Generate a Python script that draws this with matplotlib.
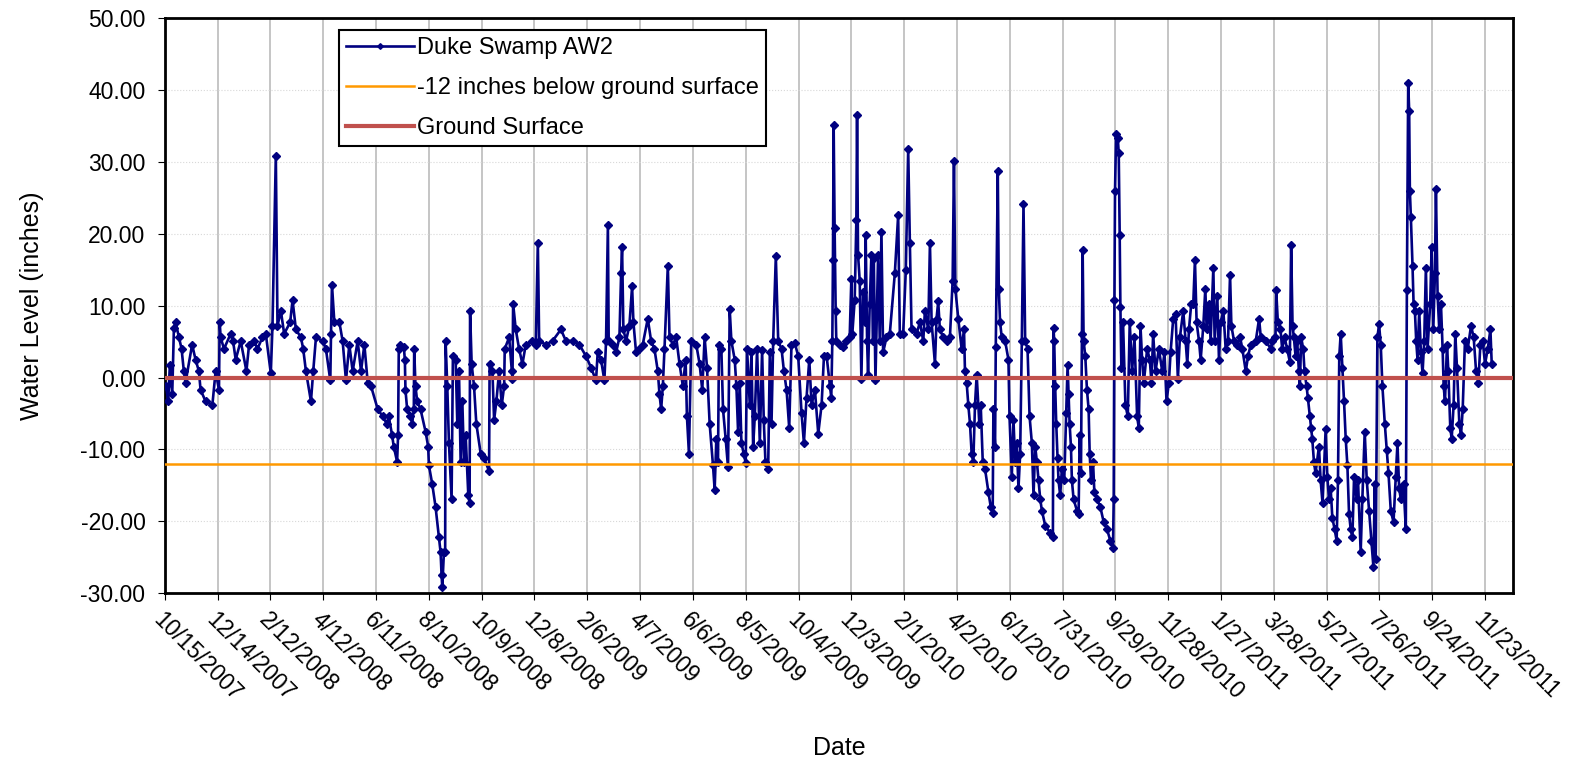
import matplotlib
matplotlib.use("Agg")
import matplotlib.pyplot as plt
import pandas as pd

plt.rcParams['font.family'] = ['Liberation Sans', 'DejaVu Sans']

start = pd.Timestamp('2007-10-15')

# days since 10/15/2007, water level (inches)
days = [1.5, 3.8, 5.7, 8.4, 10.3, 12.2, 16, 19, 21.6, 23.5, 31, 34.9, 38.7, 40.6, 46.3, 54, 57.7, 61.5, 62.3, 63.4,
        67.2, 74.8, 77.5, 80.5, 86.2, 92.7, 95.7, 101.4, 105.2, 110.9, 114.7, 120.4, 122.3, 126.1, 128, 131.8, 135.6,
        142.4, 145.1, 148.9, 154.6, 157.2, 160.3, 166, 168.6, 171.7, 179.3, 183, 188, 188.8, 189.9, 192.6, 198.3, 202,
        205.8, 209.6, 213.4, 219.1, 222.9, 226.7, 230.5, 234.3, 241.9, 247.6, 252, 254.4, 258.2, 260.1, 263.9, 265,
        265.8, 267.7, 271.5, 272.7, 273.4, 275.3, 279.1, 281, 282.9, 283.3, 284.8, 286.7, 290.5, 296.2, 299.2, 300,
        303.8, 307.6, 311.4, 313.3, 314.4, 315.2, 317.1, 318.5, 319, 320.9, 322.8, 325.8, 327.3, 330.4, 332.3, 334.2,
        336.1, 338, 339.9, 341.8, 344.8, 346.3, 346.8, 348.6, 351.3, 353.9, 358.9, 362.7, 368.4, 369, 372.2, 374.1,
        376.7, 379.8, 382.8, 385.5, 386.2, 391.2, 394.2, 395, 395.7, 398.7, 402.5, 406.3, 410.1, 417.7, 421.5, 423.8,
        425.3, 432.9, 440.5, 450, 455.7, 463.3, 470.9, 478.5, 484.2, 489.9, 491.8, 495.6, 499.4, 501.3, 503.4,
        504.3, 508.9, 512.7, 516.5, 518.4, 519.5, 521, 524, 527.8, 530.9, 532.4, 535.4, 539.2, 543, 548.7, 552.5,
        556.3, 560.1, 562, 563.9, 565.8, 567.7, 571.5, 573.4, 577.2, 581, 584.8, 588.6, 591.7, 593.2, 595.5, 598.1,
        603.8, 607.6, 610.6, 613.3, 616, 619, 622.8, 624.7, 626.6, 628.5, 629.6, 632.3, 634.2, 637.2, 639.9, 641.8,
        643.7, 647.5, 649.4, 651.3, 653.2, 655.1, 657.7, 660, 661.5, 664.6, 666.5, 668.4, 670.3, 672.9, 676, 678.6,
        680.5, 682.4, 685.5, 687.4, 689.3, 691.2, 694.2, 696.9, 700.7, 703.4, 706.4, 709.4, 712, 715.8, 719.6, 723.4,
        726.1, 729.1, 732.2, 734.8, 738.6, 742.4, 746.2, 748.9, 751.9, 755.7,
        757.2, 758.4, 759.1, 759.9, 761, 762.2, 762.9, 766.7, 770.5, 774.3, 778.1, 780, 781.1, 783.8, 785.7, 786.5,
        787.6, 789.5, 791.4, 793.3, 795.2, 796.3, 797.9, 799, 800.9, 802.8, 804.7, 805.5, 807.4, 810.4, 812.3, 814.2,
        816.1, 819.9, 823.7, 829.4, 833.2, 835.1, 838.9, 841.9, 844.6, 846.5, 848.4, 854.1, 857.9, 861.7, 863.6,
        867.4, 869.3, 871.2, 875, 876.8, 878.7, 880.6, 884.4, 888.2, 892, 895.1, 896.6, 898.1, 901.5, 905.3, 908,
        909.1, 911, 912.9, 914.8, 916.7, 918.6, 920.5, 922.4, 925.4, 927, 929.3, 931.9, 935.7, 938.4, 940.6, 941.4,
        943.3, 944.1, 946.4, 947.5, 949, 950.9, 954.7, 958.5, 959.7, 962.3, 964.2, 966.1, 968, 969.9, 971.8, 973.7,
        975.6, 977.5, 980.2, 982.5, 985.1, 987, 988.9, 990.8, 992.7, 994.6, 996.5, 1000.3, 1005.9, 1009,
        1009.7, 1010.5, 1011.6, 1012.8, 1014.3, 1015.4, 1017.3, 1019.2, 1021.9, 1024.2, 1025.7, 1026.8, 1028, 1029.5,
        1030.6, 1032.5, 1036.3, 1038.2, 1039.4, 1040.9, 1042, 1042.8, 1043.9, 1045.8, 1047.7, 1049.6, 1050.8, 1052.3,
        1054.6, 1056.1, 1059.1, 1062.9, 1066.7, 1070.5, 1074.3, 1077.3, 1078.1, 1078.9, 1079.6, 1080.8, 1082.7,
        1083.8, 1084.9, 1085.7, 1086.8, 1088.7, 1091.4, 1094.1, 1096.3, 1099, 1101.7, 1104.7, 1106.6, 1108.5, 1110.4,
        1112.3, 1116.1, 1119.1, 1121, 1122.9, 1125.6, 1129.4, 1133.2, 1135.8, 1138.1, 1140.8, 1142.7, 1145.7, 1148.4,
        1151, 1153.3, 1157.1, 1159.8, 1161.7, 1163.6, 1166.2, 1168.5, 1170.4, 1172.3, 1175, 1176.9, 1179.9, 1182.2,
        1183.7, 1186.3, 1188.2, 1191.3, 1192.8, 1195.8, 1197.7, 1199.6, 1202.7, 1205.3, 1208, 1210.3, 1211.8, 1214.8,
        1218.6, 1221.7, 1224.3, 1228.1, 1230.8, 1233.8, 1239.5, 1243.3, 1245.2, 1250.9, 1256.6,
        1258.1, 1261.9, 1262.7, 1264.6, 1267.6, 1269.5, 1272.2, 1275.2, 1278.2, 1279.7, 1281.3, 1282.8, 1284.7,
        1286.6, 1288.5, 1289.6, 1291.1, 1293.4, 1294.9, 1297.2, 1298.7, 1301, 1302.5, 1303.7, 1305.6, 1307.4, 1311.3,
        1313.2, 1315.4, 1318.9, 1320.8, 1322.7, 1324.6, 1326.5, 1329.1, 1331.4, 1332.9, 1334.4, 1336, 1337.9, 1339.8,
        1341.7, 1343.6, 1345.5, 1347.4, 1349.3, 1351.2, 1354.2, 1355.7, 1358.7, 1360.6, 1363.3, 1365.6, 1368.2,
        1370.9, 1373.2, 1374.7, 1375.8, 1377.7, 1379.6, 1381.5, 1383.4, 1386.1, 1388.4, 1390.3, 1392.9, 1396, 1398.6,
        1400.5, 1402.4, 1404.3, 1407.4, 1410, 1411.2, 1412.7, 1413.8, 1414.6, 1415.7, 1417.6, 1418.8, 1420.3, 1421.8,
        1423.3, 1425.2, 1427.1, 1429, 1430.9, 1432.8, 1434.7, 1437.7, 1439.3, 1441.2, 1443.1, 1444.2, 1446.1, 1448,
        1449.9, 1451.8, 1453, 1454.5, 1456.8, 1458.3, 1460.5, 1462.1, 1464.3, 1466.2, 1468.1, 1470.8, 1472.7, 1474.6,
        1477.2, 1480.3, 1484.1, 1487.1, 1489.8, 1492.4, 1494.7, 1497.4, 1500, 1503.1, 1506.1, 1507.6]

level = [-1.2, -3.3, 1.7, -2.3, 6.9, 7.7, 5.6, 4.0, 0.9, -0.7, 4.6, 2.5, 0.9, -1.7, -3.3, -3.8, 0.9, -1.7, 7.8, 5.6,
         4.0, 6.1, 5.1, 2.5, 5.1, 0.9, 4.6, 5.1, 4.0, 5.6, 6.1, 0.6, 7.2, 30.9, 7.2, 9.3, 6.1,
         7.7, 10.8, 6.7, 5.6, 4.0, 0.9, -3.3, 0.9, 5.6, 5.1, 4.0, -0.4, 6.1, 12.9, 7.7, 7.7, 5.1,
         -0.4, 4.6, 0.9, 5.1, 0.9, 4.6, -0.7, -1.2, -4.4, -5.4, -6.4, -5.4, -8.0, -9.6, -11.7, -8.0,
         4.0, 4.6, 4.3, 2.5, -1.7, -4.4, -5.4, -6.4, -4.4, 4.0, -1.2, -3.3, -4.4, -7.5, -9.6, -12.2,
         -14.8, -18.0, -22.2, -24.3, -27.4, -29.2, -24.3, -24.3, 5.1, -1.2, -9.1, -16.9, 3.0, 2.5, -6.4, 0.9,
         -11.7, -3.3, -11.7, -8.0, -16.4, -17.5, 9.3, 1.9, -1.2, -6.4, -10.6, -11.2, -13.0, 1.9, 0.9, -5.9,
         -3.3, 0.9, -3.8, -1.2, 4.0, 5.6, 0.9, -0.2, 10.3, 6.7, 4.0, 1.9, 4.6, 5.1, 4.6, 18.8,
         5.1, 4.6, 5.1, 6.7, 5.1, 5.1, 4.6, 3.0, 1.4, -0.4, 3.5, 2.5, -0.4, 5.1, 21.2,
         5.1, 4.6, 3.5, 5.6, 14.5, 18.2, 6.7, 5.1, 7.2, 12.7, 7.7, 3.5, 4.0, 4.6, 8.2, 5.1,
         4.0, 0.9, -2.3, -4.4, -1.2, 4.0, 15.6, 5.6, 4.6, 5.6, 1.9, -1.2, 2.5, -5.4, -10.6, 5.1,
         4.6, 1.9, -1.7, 5.6, 1.4, -6.4, -12.2, -15.6, -8.5, -11.7, 4.6, 4.0, -4.4, -8.5, -12.5, 9.5,
         5.1, 2.5, -1.2, -7.5, -0.7, -9.1, -10.6, -11.9, 4.0, -3.8, 3.5, -9.6, -5.4, 4.0, -9.1, 3.8,
         -5.9, -11.7, -12.7, 3.5, -6.4, 5.1, 16.9, 5.1, 4.0, 0.9, -1.7, -7.0, 4.6, 4.8, 3.0, -4.9,
         -9.1, -2.8, 2.5, -3.8, -1.7, -7.8, -3.8, 3.0, 3.0, -1.2,
         -2.8, 5.1, 16.4, 35.2, 20.8, 9.3, 5.1, 4.6, 4.3, 5.1, 5.6, 13.7, 6.1, 10.8, 21.9, 36.5,
         17.1, 13.5, -0.2, 11.9, 7.7, 19.8, 5.1, 0.4, 10.3, 17.1, 5.1, 16.6, -0.4, 17.1, 5.1, 20.3,
         3.5, 5.6, 6.1, 14.5, 22.6, 6.1, 6.1, 15.0, 31.8, 18.7, 6.7, 6.1, 7.7, 5.1, 9.3,
         6.7, 18.7, 7.7, 1.9, 8.2, 10.6, 6.7, 5.6, 5.1, 5.6, 13.5, 30.2, 12.4, 8.2, 4.0, 6.7,
         0.9, -0.7, -3.8, -6.4, -10.6, -11.7, -3.8, 0.4, -6.4, -3.8, -11.7, -12.7, -15.9, -18.0, -18.8, -4.4,
         -9.6, 4.3, 28.7, 12.4, 7.7, 5.6, 5.1, 2.5, -5.4, -13.8, -5.9, -11.7, -9.1, -15.4, -10.6, 5.1,
         24.2, 5.1, 4.0, -5.4, -9.1, -16.4, -9.6, -11.7, -14.3, -16.9, -18.5, -20.6, -21.6, -22.2,
         6.9, 5.1, -1.2, -6.4, -11.2, -14.3, -16.4, -12.7, -14.3, -4.9, 1.7, -2.3, -6.4, -9.6,
         -14.3, -16.9, -18.5, -19.0, -8.0, -13.3, 6.1, 17.8, 5.1, 3.0, -1.7, -4.4, -10.6, -14.3,
         -11.7, -15.9, -16.9, -18.0, -20.1, -21.1, -22.7, -23.7, -16.9, 10.8, 26.0, 33.9, 33.4,
         31.3, 19.8, 9.8, 1.4, 7.7, -3.8, -5.4, 7.7, 0.9, 5.6, -5.4, -7.0, 7.2, 2.5,
         -0.7, 4.0, 2.5, -0.7, 6.1, 0.9, 4.0, 0.9, 3.5, -3.3, -0.7, 3.5, 8.2, 8.8,
         -0.2, 5.6, 9.3, 5.1, 1.9, 6.7, 10.3, 10.3, 16.4, 7.7, 5.1, 2.5, 7.2, 12.4,
         6.7, 10.3, 5.1, 15.3, 5.1, 11.4, 2.5, 7.7, 9.3, 4.0, 5.1, 14.3, 7.2, 5.1,
         4.6, 5.6, 4.0, 0.9, 3.0, 4.6, 5.1, 8.2, 5.6, 5.1, 4.0,
         5.1, 5.6, 12.2, 7.7, 6.7, 4.0, 5.6, 4.0, 2.2, 18.4, 7.2, 5.6, 3.0,
         5.1, 0.9, -1.2, 5.6, 4.0, 0.9, -1.2, -2.8, -5.4, -7.0, -8.5, -11.7, -13.3, -9.6,
         -14.3, -17.5, -7.2, -13.8, -16.9, -15.4, -19.5, -21.1, -22.7, -14.3, 3.0, 6.1, 1.4, -3.3,
         -8.5, -12.2, -19.0, -21.1, -22.2, -13.8, -16.9, -14.3, -24.3, -16.9, -7.5, -14.3, -18.5,
         -22.7, -26.4, -14.8, -25.3, 5.6, 7.4, 4.6, -1.2, -6.4, -10.1, -13.3, -18.5, -20.1, -13.8,
         -9.1, -15.4, -16.9, -14.8, -21.1, 12.2, 41.0, 37.1, 26.0, 22.4, 15.6, 10.3, 9.3, 5.1,
         2.5, 9.3, 3.5, 0.6, 5.1, 15.3, 4.0, 10.3, 18.2, 6.7, 14.5, 26.3, 11.4, 6.7,
         10.3, 4.0, -1.2, -3.3, 4.6, 0.9, -7.0, -8.5, -3.8, 6.1, 1.4, -6.4, -8.0, -4.4,
         5.1, 4.0, 7.2, 5.6, 0.9, -0.7, 4.6, 5.1, 1.9, 4.0, 6.7, 1.9]

tick_days = list(range(0, 1501, 60))
ground = 0.0
target = -12.0

dates = start + pd.to_timedelta(days, unit='D')
tick_dates = start + pd.to_timedelta(tick_days, unit='D')

fig = plt.figure(figsize=(15.85, 7.62), dpi=100)
ax = fig.add_axes([0.104, 0.2215, 0.8507, 0.7545])

ax.plot(dates, level, color='#000080', lw=1.9, marker='D', ms=3.6,
        label='Duke Swamp AW2', zorder=3)
ax.axhline(target, color='#FF9900', lw=1.8, label='-12 inches below ground surface', zorder=4)
ax.axhline(ground, color='#C0504D', lw=3, label='Ground Surface', zorder=4)

ax.set_xlim(start, start + pd.Timedelta(days=1532))
ax.set_ylim(-30, 50)
ax.set_yticks(range(-30, 51, 10))
ax.yaxis.set_major_formatter(plt.FuncFormatter(lambda v, p: '%.2f' % v))

ax.set_xticks(tick_dates)
ax.set_xticklabels(['%d/%d/%d' % (d.month, d.day, d.year) for d in tick_dates],
                   rotation=-45, ha='left', va='top', rotation_mode='anchor')
ax.tick_params(axis='both', labelsize=16.5, direction='out', length=5)
ax.tick_params(axis='x', pad=6)
ax.tick_params(axis='y', pad=9)

ax.grid(axis='x', color='#c0c0c0', lw=1.3, ls='-')
ax.grid(axis='y', color='#d8d8d8', lw=0.8, ls=':')
ax.set_axisbelow(True)
for s in ax.spines.values():
    s.set_linewidth(2)

ax.set_ylabel('Water Level (inches)', fontsize=18, labelpad=26)
ax.set_xlabel('Date', fontsize=18, labelpad=22)

leg = ax.legend(loc='upper left', bbox_to_anchor=(0.129, 0.979), fontsize=17,
                frameon=True, fancybox=False, edgecolor='black', framealpha=1,
                handlelength=2.9, handletextpad=0.1, labelspacing=0.75, borderpad=0.3,
                markerscale=0.8, borderaxespad=0)
leg.get_frame().set_linewidth(1.5)

fig.savefig('out.png', dpi=100)
